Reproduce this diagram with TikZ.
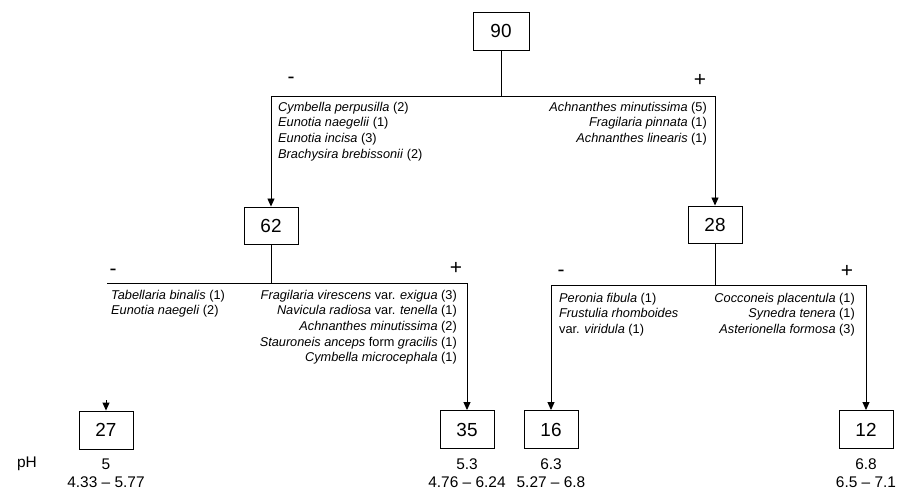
\documentclass[tikz,border=0pt]{standalone}
\usepackage{fontspec}
\setmainfont{Liberation Sans}
\usetikzlibrary{arrows.meta}
\newcommand\spn[2]{\textit{#1} (#2)}
\begin{document}
\begin{tikzpicture}[x=1bp,y=-1bp,
  box/.style={draw,line width=0.9bp,minimum width=54bp,minimum height=38bp,inner sep=0,font=\fontsize{19}{22}\selectfont},
  arr/.style={line width=0.9bp,-{Triangle[length=8bp,width=7bp]}},
  ln/.style={line width=0.9bp},
  sign/.style={inner sep=0,font=\fontsize{21}{21}\selectfont},
  lst/.style={inner sep=0,font=\fontsize{12.8}{15.6}\selectfont},
  val/.style={inner sep=0,font=\fontsize{15.5}{17}\selectfont}]
\useasboundingbox (0,0) rectangle (897,491);
% boxes
\node[box,minimum width=56bp] (b90) at (501,31) {90};
\node[box,minimum height=37bp] (b62) at (271,225.5) {62};
\node[box,minimum height=37bp] (b28) at (715,224.5) {28};
\node[box] (b27) at (106,430) {27};
\node[box] (b35) at (467,429.5) {35};
\node[box] (b16) at (551,429.5) {16};
\node[box] (b12) at (866,429.5) {12};
% connectors
\coordinate (j90) at (501,96);
\draw[ln] (b90.south) -- (j90);
\draw[arr] (j90) -| (b62.north);
\draw[arr] (j90) -| (b28.north);
\coordinate (j62) at (271,283);
\coordinate (l62) at (107,283);
\draw[ln] (b62.south) -- (j62);
\draw[ln] (j62) -- (l62);
\draw[arr] (j62) -| (b35.north);
\coordinate (a27) at (106,400);
\draw[arr] (a27) -- (b27.north);
\coordinate (j28) at (715,285);
\draw[ln] (b28.south) -- (j28);
\draw[arr] (j28) -| (b16.north);
\draw[arr] (j28) -| (b12.north);
% signs
\node[sign] (s1) at (291,80) {-};
\node[sign] (s2) at (700,80) {+};
\node[sign] (s3) at (113,272) {-};
\node[sign] (s4) at (456,268) {+};
\node[sign] (s5) at (561,273) {-};
\node[sign] (s6) at (847,271) {+};
% species lists
\node[lst,anchor=north west,align=left] (t1) at (278,102) {%
\spn{Cymbella perpusilla}{2}\\
\spn{Eunotia naegelii}{1}\\
\spn{Eunotia incisa}{3}\\
\spn{Brachysira brebissonii}{2}};
\node[lst,anchor=north east,align=right] (t2) at (707,102) {%
\spn{Achnanthes minutissima}{5}\\
\spn{Fragilaria pinnata}{1}\\
\spn{Achnanthes linearis}{1}};
\node[lst,anchor=north west,align=left] (t3) at (111,290) {%
\spn{Tabellaria binalis}{1}\\
\spn{Eunotia naegeli}{2}};
\node[lst,anchor=north east,align=right] (t4) at (457,290) {%
\textit{Fragilaria virescens} var. \textit{exigua} (3)\\
\textit{Navicula radiosa} var. \textit{tenella} (1)\\
\spn{Achnanthes minutissima}{2}\\
\textit{Stauroneis anceps} form \textit{gracilis} (1)\\
\spn{Cymbella microcephala}{1}};
\node[lst,anchor=north west,align=left] (t5) at (559,293) {%
\spn{Peronia fibula}{1}\\
\textit{Frustulia rhomboides}\\
var. \textit{viridula} (1)};
\node[lst,anchor=north east,align=right] (t6) at (855,293) {%
\spn{Cocconeis placentula}{1}\\
\spn{Synedra tenera}{1}\\
\spn{Asterionella formosa}{3}};
% pH values
\node[val] (ph) at (27,464) {pH};
\node[val] (v27) at (106,464) {5};
\node[val] (r27) at (106,482) {4.33 – 5.77};
\node[val] (v35) at (467,464) {5.3};
\node[val] (r35) at (467,482) {4.76 – 6.24};
\node[val] (v16) at (551,464) {6.3};
\node[val] (r16) at (551,482) {5.27 – 6.8};
\node[val] (v12) at (866,464) {6.8};
\node[val] (r12) at (866,482) {6.5 – 7.1};
\end{tikzpicture}
\end{document}
